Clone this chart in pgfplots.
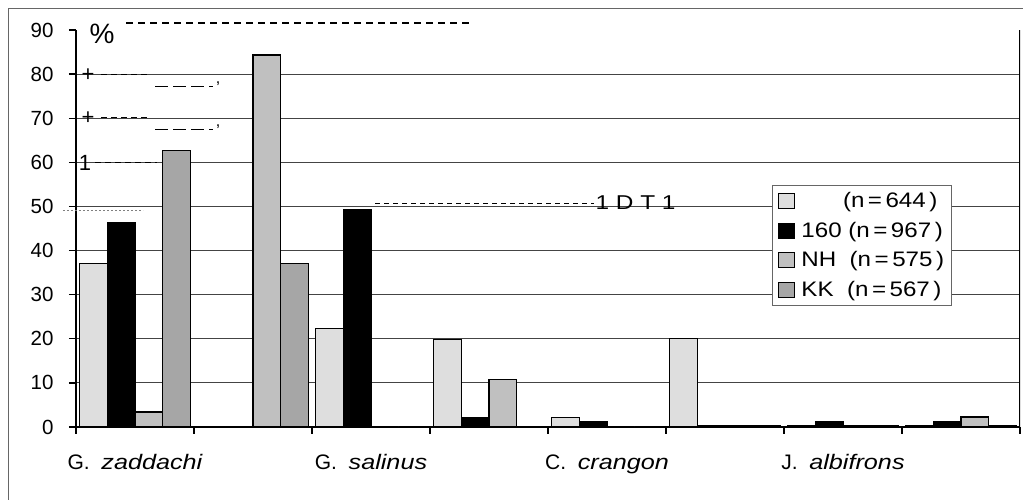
\documentclass[border=0pt]{standalone}
\usepackage{fontspec}
\usepackage{graphicx}
\setmainfont{Liberation Sans}
\newfontfamily\wide{Liberation Sans}[FakeStretch=1.22]
\newfontfamily\wider{Liberation Sans}[FakeStretch=1.15]
\newcommand{\spec}[1]{\scalebox{1.2}[1]{\itshape #1}}
\usepackage{pgfplots}
\pgfplotsset{compat=1.18}
\definecolor{cA}{HTML}{DEDEDE}
\definecolor{cC}{HTML}{C0C0C0}
\definecolor{cD}{HTML}{A6A6A6}
\definecolor{gridc}{HTML}{444444}
\begin{document}
\begin{tikzpicture}[x=1pt,y=1pt]
\useasboundingbox (-76,-73) rectangle (947,427);
\draw[line width=1pt, gray!80!black] (-67,-120) rectangle (990,418);
\begin{axis}[
  at={(0,0)}, anchor=south west,
  scale only axis, width=944pt, height=397pt,
  xmin=-0.5, xmax=7.5, ymin=0, ymax=90,
  axis x line*=bottom, axis y line*=left,
  axis line style={line width=1.3pt, black},
  every tick/.style={line width=1.3pt, black},
  tick align=outside, major tick length=7pt,
  xtick={-0.5,0.5,...,7.5}, xticklabels={},
  extra x ticks={0,2,4,6},
  extra x tick labels={G.\ \ \spec{zaddachi}, G.\ \ \spec{salinus}, C.\ \ \spec{crangon}, J.\ \ \spec{albifrons}},
  extra x tick style={major tick length=0pt, grid=none, xticklabel style={yshift=-24pt, font=\fontsize{21}{24}\selectfont}},
  ytick={0,10,...,80},
  extra y ticks={90}, extra y tick style={grid=none},
  ymajorgrids, grid style={gridc, line width=0.8pt},
  yticklabel shift=12pt,
  yticklabel style={font=\fontsize{20.5}{23}\selectfont},
  /pgf/number format/assume math mode=true,
  ybar=0pt, bar width=27.6pt,
  every axis plot/.append style={draw=black, line width=1.3pt},
  legend cell align=left,
  legend style={at={(0.737,0.61)}, anchor=north west, draw=gray!80!black, line width=0.8pt,
    font=\wider\fontsize{21}{23}\selectfont, row sep=9pt, inner xsep=3pt, inner ysep=5pt,
    nodes={inner xsep=4pt}},
  legend image code/.code={\path (0pt,0pt) (21pt,0pt); \draw[#1, line width=0.6pt] (3pt,-7.5pt) rectangle (19pt,7.5pt);},
]
\addplot[fill=cA] coordinates {(0,37) (1,0) (2,22.3) (3,19.8) (4,2.2) (5,20) (6,0.2) (7,0.3)};
\addplot[fill=black] coordinates {(0,46.4) (1,0) (2,49.3) (3,2.2) (4,1.3) (5,0.3) (6,1.3) (7,1.3)};
\addplot[fill=cC] coordinates {(0,3.4) (1,84.3) (2,0) (3,10.7) (4,0) (5,0.3) (6,0.2) (7,2.3)};
\addplot[fill=cD] coordinates {(0,62.7) (1,37) (2,0) (3,0) (4,0) (5,0.3) (6,0.3) (7,0.4)};
\legend{\hphantom{NH} (n\,=\,644\,), 160 (n\,=\,967\,), NH\ \ (n\,=\,575\,), KK\ \ (n\,=\,567\,)}
\draw[line width=1.3pt] (axis cs:7.5,0) -- (axis cs:7.5,90);
\end{axis}
% scan artefacts of the original figure
\node[font=\fontsize{28}{30}\selectfont, anchor=west] at (10,393) {\%};
\draw[line width=1.6pt, dash pattern=on 7pt off 5pt] (50,404) -- (395,404);
\draw[line width=1pt, dash pattern=on 5pt off 4pt] (299,223) -- (518,223);
\node[font=\wide\fontsize{20}{22}\selectfont, anchor=west] at (516,224) {1 D T 1};
\foreach \yy in {352,309} {
  \node[font=\fontsize{22}{24}\selectfont] at (12,\yy) {+};
  \draw[line width=1pt, dash pattern=on 6pt off 4pt] (25,\yy) -- (74,\yy);
  \draw[line width=0.8pt, dash pattern=on 13pt off 5pt] (79,\yy-11) -- (137,\yy-11);
  \node[font=\fontsize{16}{18}\selectfont] at (142,\yy-9) {,};
}
\node[font=\fontsize{22}{24}\selectfont] at (9,264) {1};
\draw[line width=1pt, dash pattern=on 6pt off 4pt] (19,264) -- (81,264);
\draw[line width=0.6pt, gray, dash pattern=on 2pt off 2pt] (-13,217) -- (67,217);
\end{tikzpicture}
\end{document}
